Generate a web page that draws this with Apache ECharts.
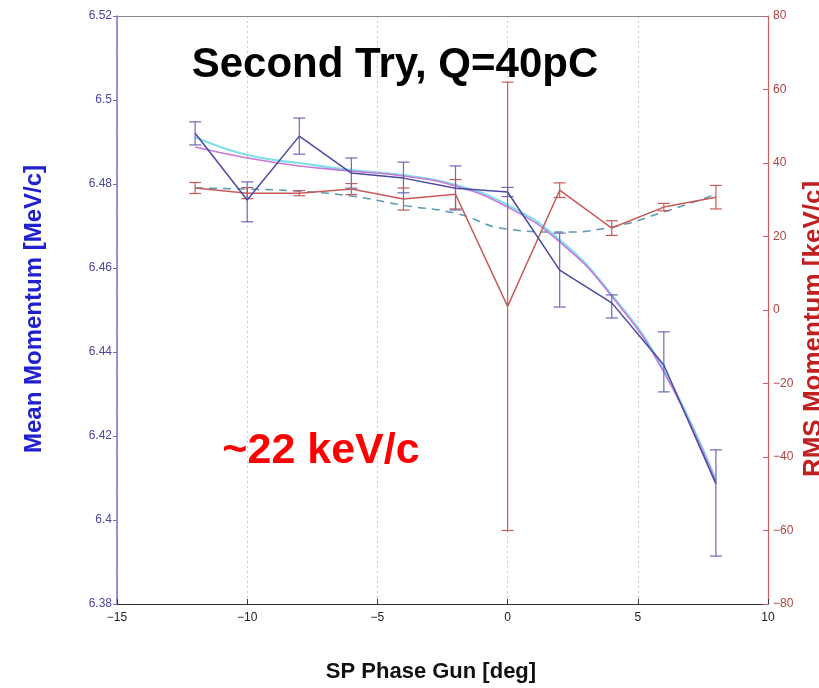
<!DOCTYPE html>
<html><head><meta charset="utf-8">
<script src="https://cdn.jsdelivr.net/npm/echarts@6/dist/echarts.min.js"></script>
<style>html,body{margin:0;padding:0;background:#fff}#c{width:819px;height:688px}</style>
</head><body><div id="c"></div>
<script>
// ---- data ----
const phase = [-12, -10, -8, -6, -4, -2, 0, 2, 4, 6, 8];
const meanMom = [6.4921, 6.4762, 6.4914, 6.4826, 6.4814, 6.4790, 6.4781, 6.4595, 6.4517, 6.4369, 6.4086];
const meanLo  = [6.4893, 6.4710, 6.4871, 6.4790, 6.4779, 6.4738, 6.4770, 6.4507, 6.4481, 6.4305, 6.3914];
const meanHi  = [6.4948, 6.4805, 6.4957, 6.4862, 6.4852, 6.4843, 6.4792, 6.4683, 6.4536, 6.4448, 6.4167];
const fitCyan = [6.4912, 6.4869, 6.4850, 6.4833, 6.4821, 6.4798, 6.4750, 6.4667, 6.4536, 6.4357, 6.4095];
const fitMagenta = [6.4888, 6.4862, 6.4843, 6.4831, 6.4819, 6.4795, 6.4745, 6.4662, 6.4533, 6.4352, 6.4090];
const rmsMom = [33.2, 31.8, 31.8, 32.9, 30.2, 31.5, 1.0, 32.6, 22.3, 28.0, 30.7];
const rmsErr = [1.5, 1.5, 0.7, 1.5, 3.0, 4.0, 61.0, 2.0, 2.0, 1.0, 3.2];
const rmsFit = [33.2, 32.9, 32.3, 31.0, 28.5, 26.3, 22.0, 21.2, 22.6, 26.7, 31.5];
const xTicks = [-15, -10, -5, 0, 5, 10];
const leftTicks = [6.38, 6.40, 6.42, 6.44, 6.46, 6.48, 6.50, 6.52];
const rightTicks = [-80, -60, -40, -20, 0, 20, 40, 60, 80];

const BLUE = '#4a4aa6', RED = '#c85a5a';
const minus = v => String(v).replace('-', '\u2212');

function errSeries(name, lo, hi, color, yIdx) {
  return {
    name: name, type: 'custom', yAxisIndex: yIdx, z: 3,
    data: phase.map((x, i) => [x, lo[i], hi[i]]),
    renderItem: function (params, api) {
      const p1 = api.coord([api.value(0), api.value(1)]);
      const p2 = api.coord([api.value(0), api.value(2)]);
      const w = 6;
      const st = { stroke: color, lineWidth: 1.2 };
      return { type: 'group', children: [
        { type: 'line', shape: { x1: p1[0], y1: p1[1], x2: p2[0], y2: p2[1] }, style: st },
        { type: 'line', shape: { x1: p1[0] - w, y1: p1[1], x2: p1[0] + w, y2: p1[1] }, style: st },
        { type: 'line', shape: { x1: p2[0] - w, y1: p2[1], x2: p2[0] + w, y2: p2[1] }, style: st }
      ]};
    }
  };
}

const chart = echarts.init(document.getElementById('c'));
chart.setOption({
  animation: false,
  backgroundColor: '#fff',
  grid: { left: 117, right: 51, top: 16, bottom: 84 },
  xAxis: [{
    type: 'value', min: -15, max: 10, interval: 5, position: 'bottom',
    axisLine: { onZero: false, lineStyle: { color: '#333', width: 1.2 } },
    axisTick: { inside: true, length: 5, lineStyle: { color: '#333' } },
    axisLabel: { color: '#222', fontSize: 12, fontFamily: 'Liberation Sans', margin: 8, formatter: minus },
    splitLine: { show: true, lineStyle: { color: '#c8c8c8', type: [2, 3] } }
  }, {
    type: 'value', position: 'top', min: -15, max: 10, interval: 5,
    axisLine: { show: true, onZero: false, lineStyle: { color: '#888' } },
    axisTick: { show: false }, axisLabel: { show: false }, splitLine: { show: false }
  }],
  yAxis: [{
    type: 'value', min: 6.38, max: 6.52, interval: 0.02, position: 'left',
    axisLine: { show: true, onZero: false, lineStyle: { color: '#7070c8', width: 1.5 } },
    axisTick: { show: true, length: 4, lineStyle: { color: '#7070c8' } },
    axisLabel: { color: '#4848a0', fontSize: 12, fontFamily: 'Liberation Sans', margin: 5,
      formatter: v => String(parseFloat(v.toFixed(2))) },
    splitLine: { show: false }
  }, {
    type: 'value', min: -80, max: 80, interval: 20, position: 'right',
    axisLine: { show: true, onZero: false, lineStyle: { color: '#c86060', width: 1.2 } },
    axisTick: { show: true, inside: true, length: 5, lineStyle: { color: '#c86060' } },
    axisLabel: { color: '#b04040', fontSize: 12, fontFamily: 'Liberation Sans', margin: 5, formatter: minus },
    splitLine: { show: false }
  }],
  series: [
    { name: 'rmsFit', type: 'line', yAxisIndex: 1, smooth: true, symbol: 'none',
      data: phase.map((x, i) => [x, rmsFit[i]]),
      lineStyle: { color: '#5a9ab0', width: 1.5, type: [8, 6] }, z: 2 },
    { name: 'fitCyan', type: 'line', smooth: true, symbol: 'none',
      data: phase.map((x, i) => [x, fitCyan[i]]),
      lineStyle: { color: '#80e0e8', width: 2.2 }, z: 2 },
    { name: 'fitMagenta', type: 'line', smooth: true, symbol: 'none',
      data: phase.map((x, i) => [x, fitMagenta[i]]),
      lineStyle: { color: '#c878d8', width: 1.6 }, z: 2 },
    { name: 'rms', type: 'line', yAxisIndex: 1, symbol: 'none',
      data: phase.map((x, i) => [x, rmsMom[i]]),
      lineStyle: { color: RED, width: 1.5 }, z: 3 },
    errSeries('rmsErr', rmsMom.map((v, i) => v - rmsErr[i]), rmsMom.map((v, i) => v + rmsErr[i]), RED, 1),
    { name: 'mean', type: 'line', symbol: 'none',
      data: phase.map((x, i) => [x, meanMom[i]]),
      lineStyle: { color: BLUE, width: 1.5 }, z: 4 },
    errSeries('meanErr', meanLo, meanHi, '#6a6ab8', 0)
  ],
  graphic: [
    { type: 'text', x: 395, y: 65, z: 10,
      style: { text: 'Second Try, Q=40pC', fill: '#000', font: 'bold 42px "Liberation Sans", Arial',
        align: 'center', verticalAlign: 'middle' } },
    { type: 'text', x: 321, y: 451, z: 10,
      style: { text: '~22 keV/c', fill: '#f00', font: 'bold 43px "Liberation Sans", Arial',
        align: 'center', verticalAlign: 'middle' } },
    { type: 'text', x: 34, y: 309, rotation: Math.PI / 2, z: 10,
      style: { text: 'Mean Momentum [MeV/c]', fill: '#2020d0', font: 'bold 24px "Liberation Sans", Arial',
        align: 'center', verticalAlign: 'middle' } },
    { type: 'text', x: 814, y: 329, rotation: Math.PI / 2, z: 10,
      style: { text: 'RMS Momentum [keV/c]', fill: '#c02020', font: 'bold 26px "Liberation Sans", Arial',
        align: 'center', verticalAlign: 'middle' } },
    { type: 'text', x: 431, y: 672, z: 10,
      style: { text: 'SP Phase Gun [deg]', fill: '#111', font: 'bold 22px "Liberation Sans", Arial',
        align: 'center', verticalAlign: 'middle' } }
  ]
});
</script></body></html>
